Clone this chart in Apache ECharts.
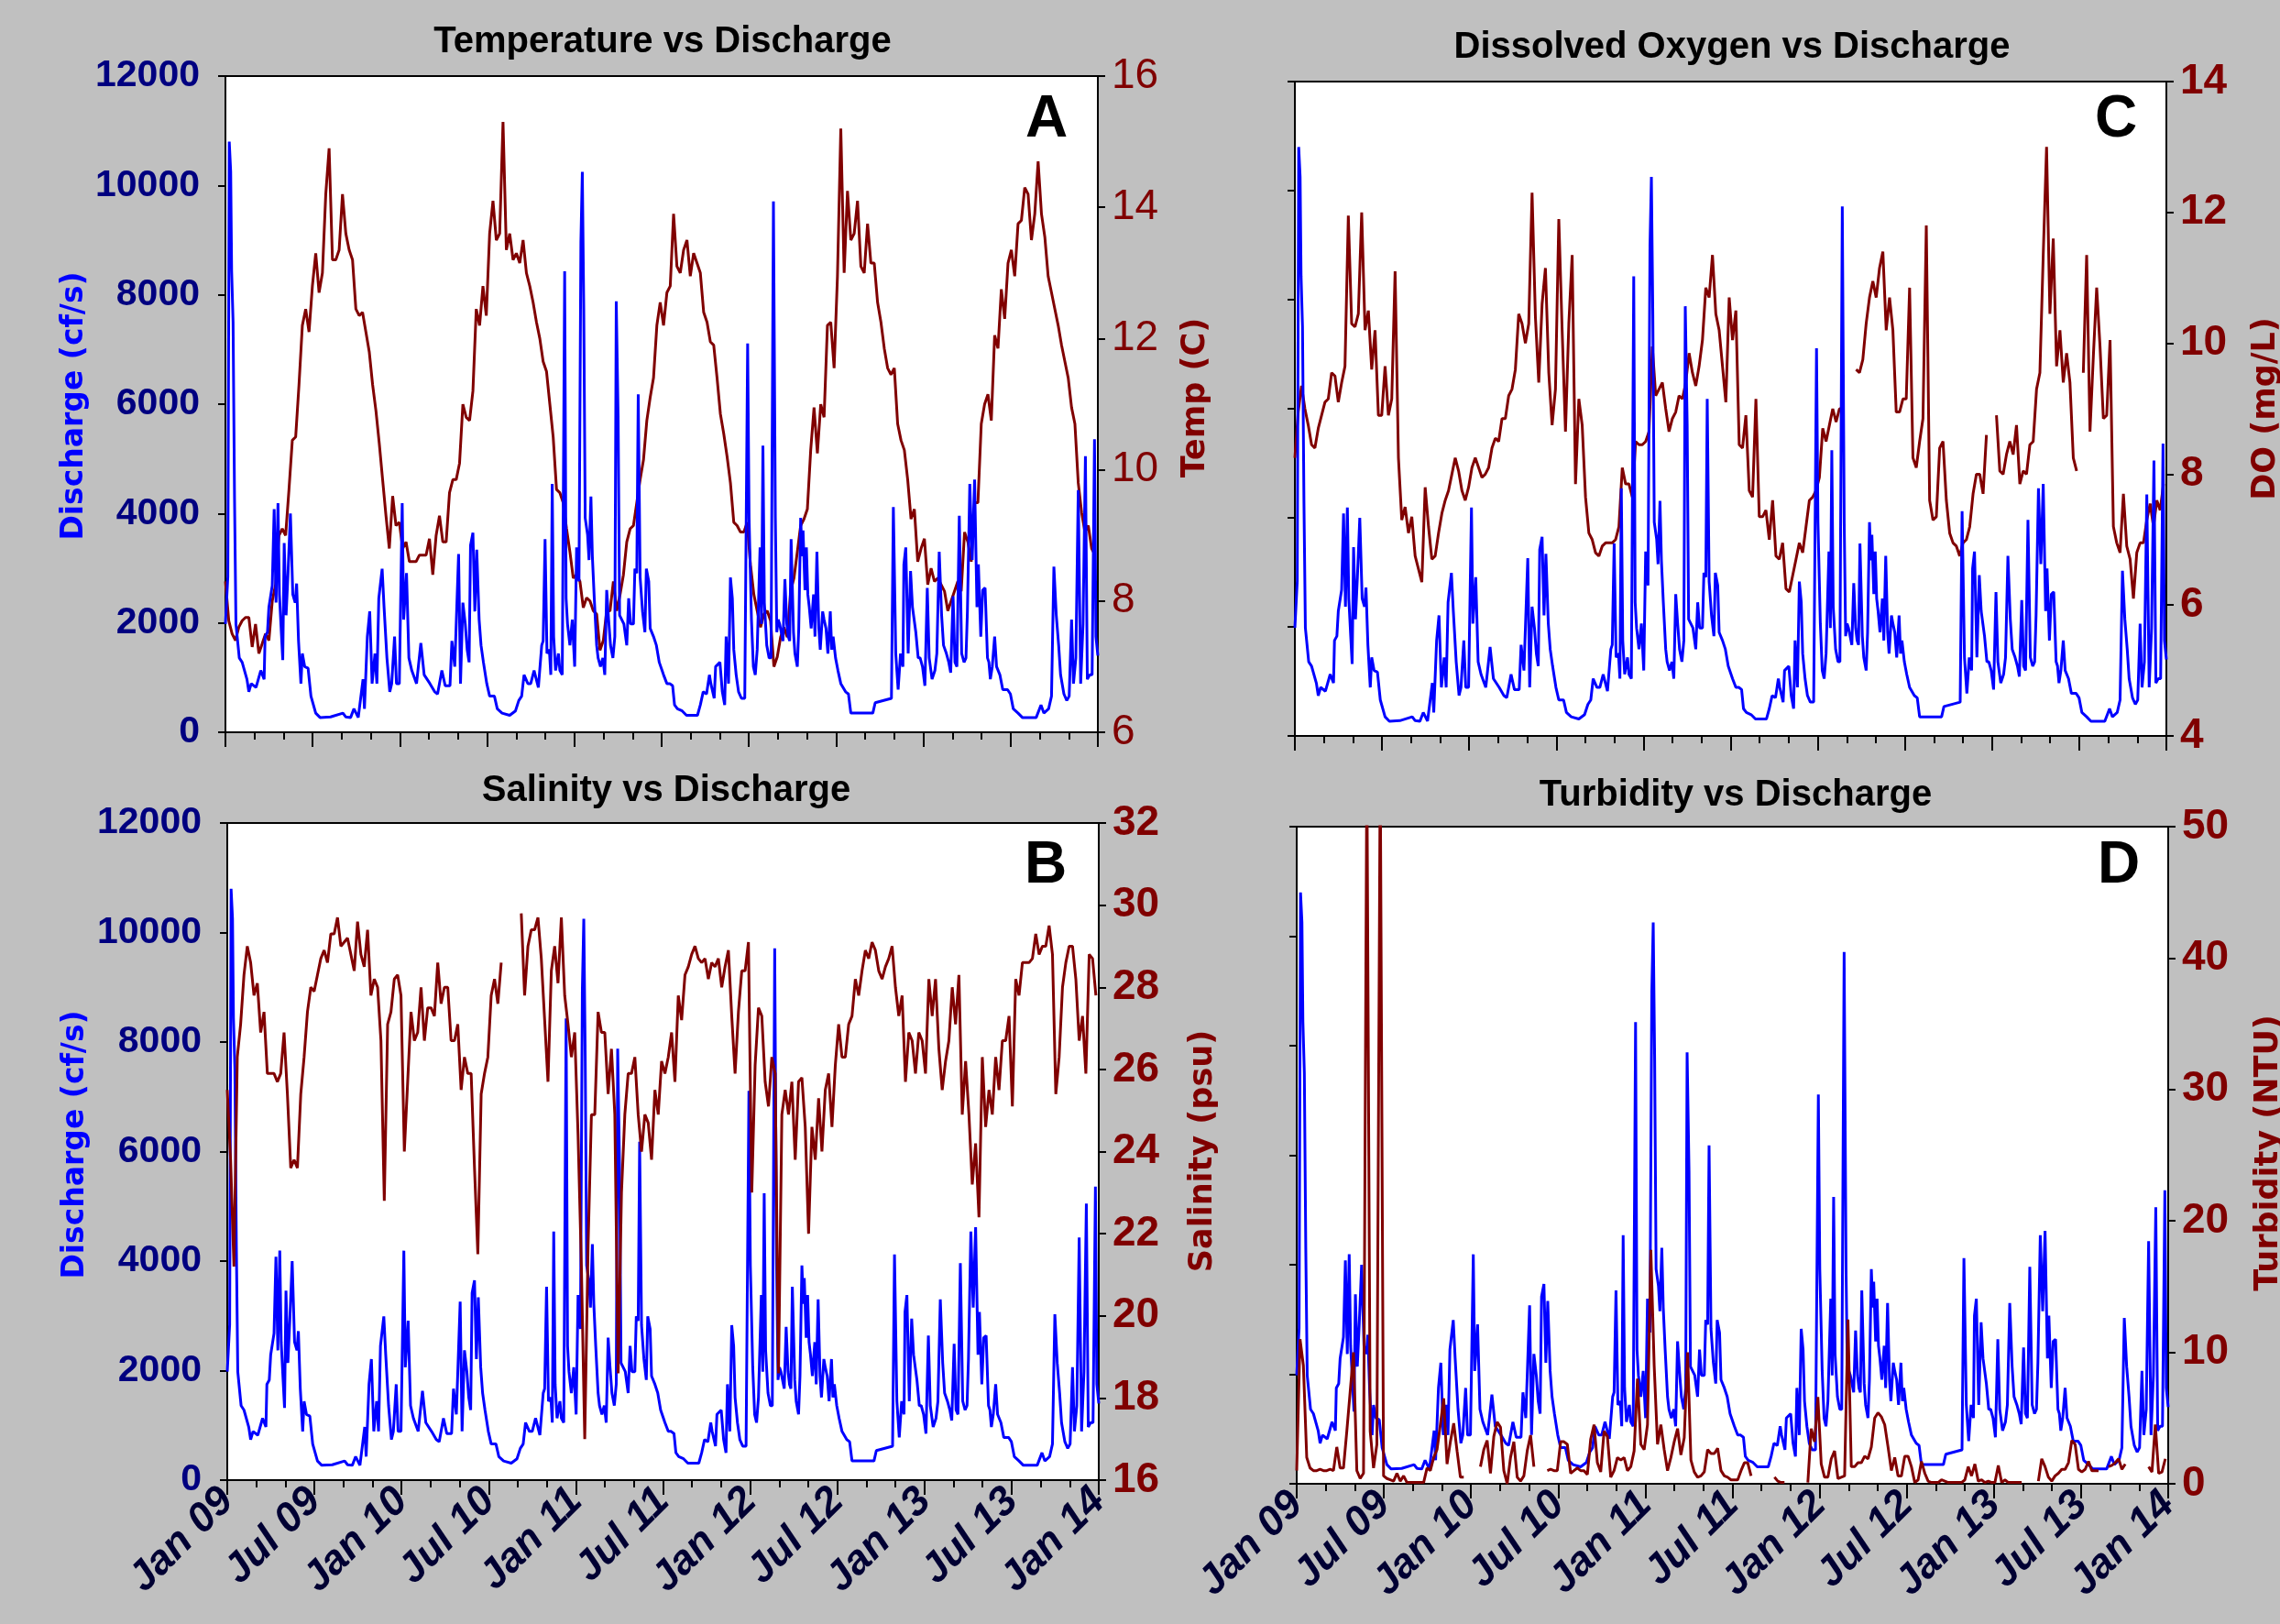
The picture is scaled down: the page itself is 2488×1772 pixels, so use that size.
<!DOCTYPE html>
<html>
<head>
<meta charset="utf-8">
<script src="https://cdn.jsdelivr.net/npm/echarts@6/dist/echarts.min.js"></script>
<style>
html,body{margin:0;padding:0;background:#c0c0c0;}
#chart{width:2488px;height:1772px;}
</style>
</head>
<body>
<div id="chart"></div>
<script>
// discharge (cf/s): day offset from 2009-01-01 and value, shared by all four panels
const qDay = [0,5,8,11,13,16,19,22,29,35,45,49,54,64,74,81,83,88,91,98,
  102,106,110,113,117,120,123,127,131,136,141,146,149,153,158,161,166,173,179,189,
  198,220,246,252,262,269,278,288,291,297,302,307,313,317,321,328,332,338,344,348,
  354,358,364,370,373,379,384,390,400,409,416,428,438,444,453,460,470,474,480,488,
  492,497,502,506,510,513,518,522,526,531,535,540,547,553,563,569,579,595,607,614,
  620,625,633,639,646,655,662,665,669,673,678,681,684,687,691,697,700,705,710,713,
  716,721,726,731,735,740,744,747,750,753,758,761,765,768,772,777,780,785,790,794,
  798,802,806,811,815,818,822,825,834,840,844,848,854,857,861,864,868,873,878,881,
  886,889,896,902,908,
  917,924,930,936,940,946,956,965,975,988,994,1000,1007,1013,1016,1023,1026,1029,1035,1040,
  1045,1048,1053,1057,1061,1064,1069,1074,1080,1087,1093,1096,1101,1105,1109,1113,1119,1122,1125,1128,
  1133,1138,1142,1147,1151,1154,1157,1160,1163,1167,1171,1175,1178,1181,1184,1189,1192,1197,1200,1204,
  1207,1209,1213,1216,1219,1222,1226,1231,1234,1238,1242,1245,1250,1253,1257,1261,1266,1269,1272,1277,
  1282,1288,1298,1304,1309,1317,1336,1355,1360,1394,1398,1403,1408,1413,1418,1420,1424,1429,1434,1438,
  1445,1450,1454,1459,1464,1469,1473,1479,1485,1489,1494,1499,1503,1509,1514,1518,1523,1527,1531,1536,
  1541,1546,1550,1553,1558,1563,1568,1573,1576,1581,1585,1590,1595,1598,1601,1605,1610,1614,1621,1627,
  1637,1643,1649,1659,1668,1681,1697,1707,1713,1723,1729,1734,1739,1744,1748,1755,1761,1766,1771,1775,
  1780,1785,1790,1795,1800,1804,1809,1814,1819,1822,1826];
const qVal = [1980,2840,10800,10250,8430,7500,4300,1980,1360,1280,970,740,890,820,1130,970,1750,1830,2290,2680,
  4080,2370,4190,2520,1830,1320,3460,2140,2910,4000,2520,2370,2720,1670,890,1440,1200,1170,660,350,
  270,280,350,280,270,430,270,970,430,1750,2210,890,1440,890,2450,2990,2290,1360,740,890,
  1750,890,890,4190,2060,2910,1360,1130,890,1630,1050,890,740,700,1130,850,850,1670,1200,3260,
  890,2370,1980,1510,1280,3420,3650,2210,3340,2060,1590,1280,890,660,660,430,350,310,390,580,
  660,1050,890,890,1130,820,1590,1670,3530,1440,1510,1050,4540,1750,1130,1440,1130,1050,8430,2450,
  1980,1590,2060,1200,3380,2760,8970,10250,7730,3920,3610,3150,4310,3220,2450,1590,1360,1200,1360,1050,
  2600,2060,1590,1360,1750,7880,5710,2140,1980,1590,2450,1980,1980,2990,2910,6180,2830,2210,1830,2990,
  2760,1900,1750,1590,1280,
  1050,890,890,850,500,430,390,310,310,310,500,740,700,1050,890,620,1200,1170,1280,740,
  500,1750,890,2830,2450,1510,1050,740,620,620,7110,3920,2060,1200,1050,1510,3380,1980,5240,2370,
  1590,1360,1360,9710,3920,1830,2060,1980,1980,1670,2800,1980,1750,1670,3530,1830,1440,1200,1900,3920,
  3220,3690,2600,3380,2520,2290,1900,2520,1750,3300,1900,1510,2210,2060,1900,1440,2210,1510,1750,1360,
  1130,890,740,700,350,350,350,350,540,620,4120,1440,780,1440,1200,3070,3380,1440,2950,2290,
  1830,1360,1360,1200,850,2640,1360,970,1130,1440,3300,2140,1590,1440,1280,1090,2490,1280,1200,3960,
  1440,1280,1360,2210,4540,3150,4620,2290,3070,1750,2600,2640,1360,1280,970,1200,1750,1200,1050,780,
  780,700,430,350,270,270,270,500,350,430,660,3030,2140,1590,1050,700,580,660,2060,890,
  1360,4430,890,1980,5050,970,1050,1050,5360,1750,1400];

// weekly readings (week k = day 7k), Jan 2009 - Dec 2013
const tempC = [8.3,7.7,7.5,7.4,7.6,7.7,7.75,7.75,7.3,7.65,
  7.2,7.35,7.5,7.4,8.0,8.25,9.0,9.1,9.0,9.7,
  10.45,10.5,11.3,12.2,12.45,12.1,12.8,13.3,12.7,13.0,
  14.2,14.9,13.2,13.2,13.35,14.2,13.6,13.35,13.2,12.45,
  12.35,12.4,12.1,11.8,11.3,10.9,10.4,9.85,9.3,8.8,
  9.6,9.15,9.2,8.8,8.9,8.6,8.6,8.6,8.7,8.7,
  8.7,8.95,8.4,9.0,9.3,8.9,8.9,9.65,9.85,9.85,
  10.1,11.0,10.8,10.75,11.2,12.45,12.2,12.8,12.35,13.6,
  14.1,13.5,13.6,15.3,13.35,13.6,13.2,13.3,13.15,13.5,
  13.0,12.8,12.55,12.25,12.0,11.65,11.5,11.0,10.5,9.7,
  9.65,9.5,9.1,8.75,8.35,8.4,8.3,7.9,8.05,8.0,
  7.85,7.8,7.25,7.4,7.85,7.85,8.3,7.85,8.1,8.4,
  8.9,9.1,9.15,9.5,9.85,10.15,10.75,11.1,11.4,12.2,
  12.55,12.2,12.7,12.8,13.9,13.1,13.0,13.35,13.5,12.95,
  13.3,13.15,13.0,12.4,12.25,11.95,11.9,11.4,10.85,10.55,
  10.2,9.8,9.2,9.15,9.05,9.05,9.2,8.55,8.1,7.85,
  7.6,7.8,7.85,7.7,7.0,7.15,7.45,7.6,7.45,8.15,
  8.35,8.75,9.15,9.25,9.4,10.3,10.95,10.25,11.0,10.8,
  12.2,12.25,11.55,12.95,15.2,13.0,14.25,13.5,13.6,14.1,
  13.1,13.0,13.75,13.15,13.15,12.55,12.25,11.85,11.55,11.45,
  11.55,10.7,10.45,10.3,9.85,9.25,9.4,8.6,8.8,8.95,
  8.25,8.5,8.3,8.35,8.25,8.15,7.85,8.0,8.15,8.3,
  8.15,9.05,8.9,8.6,9.5,9.5,10.7,11.0,11.15,10.75,
  12.05,11.85,12.75,12.3,13.15,13.35,12.95,13.75,13.8,14.3,
  14.2,13.5,13.9,14.7,13.9,13.55,12.95,12.7,12.45,12.2,
  11.9,11.65,11.4,10.95,10.7,9.8,9.35,9.05,9.15,8.8,8.7];

const salPsu = [25.5,23.8,21.2,26.3,27.1,28.3,29.0,28.6,27.8,28.1,
  26.9,27.4,25.9,25.9,25.9,25.7,25.9,26.9,25.4,23.6,
  23.8,23.6,25.4,26.3,27.4,28.0,27.9,28.3,28.7,28.9,
  28.6,29.3,29.3,29.7,29.0,29.1,29.2,28.8,28.4,29.6,
  28.8,28.5,29.4,27.8,28.2,28.0,26.7,22.8,27.1,27.4,
  28.2,28.3,27.8,24.0,25.7,27.4,26.7,26.9,28.0,26.7,
  27.5,27.5,27.3,28.6,27.6,28.0,28.0,26.7,26.7,27.1,
  25.5,26.3,25.9,25.9,23.6,21.5,25.4,25.9,26.3,27.8,
  28.2,27.6,28.6,null,null,null,null,null,29.8,27.8,
  29.0,29.4,29.4,29.7,28.7,27.2,25.7,28.4,29.0,28.1,
  29.7,27.8,27.1,26.3,26.9,24.4,21.2,17.0,21.7,24.9,
  24.9,27.4,26.9,26.9,25.4,26.5,24.9,18.6,23.0,24.9,
  25.9,25.9,26.3,24.9,24.0,24.9,24.7,23.8,25.5,24.9,
  26.2,25.9,26.3,26.9,25.7,27.8,27.2,28.3,28.5,28.8,
  29.0,28.7,28.6,28.7,28.2,28.6,28.5,28.7,28.0,28.5,
  28.9,27.3,25.9,27.4,28.4,28.4,29.1,23.0,26.1,27.5,
  27.3,25.7,25.1,26.3,25.9,18.6,24.9,25.5,24.9,25.7,
  23.8,25.7,25.8,24.6,22.0,24.6,23.8,25.3,24.0,25.5,
  25.9,24.6,26.1,27.1,26.3,26.3,27.1,27.3,28.2,27.8,
  28.4,28.9,28.7,29.1,28.9,28.4,28.2,28.5,28.7,29.0,
  28.0,27.3,27.8,25.7,26.9,26.7,25.9,26.9,26.7,25.9,
  28.2,27.3,28.2,26.5,25.5,26.2,26.7,28.0,27.1,28.3,
  24.9,26.2,24.9,23.2,24.2,22.4,26.3,24.6,25.5,24.9,
  26.3,25.5,26.7,26.7,27.3,25.1,28.2,27.8,28.6,28.6,
  28.6,28.7,29.3,28.8,29.0,29.0,29.5,28.8,25.4,26.3,
  28.0,28.6,29.0,29.0,28.2,26.7,27.3,25.9,28.8,28.7,27.8];

const doMgL = [8.25,8.95,9.35,9.0,8.75,8.45,8.4,8.7,8.9,9.1,
  9.15,9.55,9.5,9.1,9.4,9.65,11.95,10.3,10.25,10.45,
  12.0,10.2,10.5,9.6,10.2,8.9,8.9,9.65,8.9,9.15,
  11.1,8.25,7.3,7.5,7.1,7.35,6.75,6.55,6.35,7.8,
  7.2,6.7,6.75,7.1,7.4,7.6,7.75,8.0,8.25,8.05,
  7.75,7.6,7.8,8.1,8.25,8.1,7.95,8.0,8.1,8.4,
  8.55,8.5,8.85,8.85,9.2,9.3,9.6,10.45,10.3,10.0,
  10.3,12.3,10.4,9.4,10.6,11.15,9.55,8.75,9.3,11.9,
  10.2,8.65,10.3,11.35,7.85,9.15,8.75,7.65,7.1,7.0,
  6.8,6.75,6.9,6.95,6.95,6.95,7.0,7.2,8.1,7.85,
  7.85,7.65,8.5,8.45,8.45,8.5,8.65,9.95,9.2,9.3,
  9.4,9.0,8.65,8.85,8.95,9.2,9.15,9.4,9.85,9.55,
  9.35,9.65,10.05,10.85,10.7,11.35,10.45,10.2,9.65,9.1,
  10.7,10.05,10.5,8.45,8.4,8.9,7.75,7.65,9.15,7.35,
  7.35,7.45,7.0,7.6,6.75,6.7,6.95,6.25,6.2,6.45,
  6.7,6.95,6.8,7.2,7.6,7.65,7.75,7.95,8.7,8.5,
  8.75,9.0,8.8,9.0,9.0,null,null,null,9.6,9.55,
  9.75,10.3,10.7,10.95,10.7,11.15,11.4,10.2,10.7,10.2,
  8.95,8.95,9.15,9.15,10.85,8.25,8.1,8.5,8.85,11.8,
  7.6,7.3,7.35,8.4,8.5,7.6,7.1,6.95,6.9,6.75,
  6.95,7.0,7.2,7.7,8.0,8.0,7.7,8.6,null,null,
  8.9,8.05,8.0,8.3,8.5,8.3,8.75,7.85,8.05,8.0,
  8.45,8.5,9.3,9.55,11.35,13.0,10.45,11.6,9.65,10.2,
  9.4,9.85,9.4,8.25,8.05,null,9.55,11.35,8.65,9.8,
  10.85,9.95,8.85,8.9,10.05,7.2,6.95,6.8,7.7,6.9,
  6.7,6.1,6.8,6.95,6.95,7.3,7.55,7.2,7.6,7.45,7.85];

const turbNtu = [1.0,11.0,9.0,2.0,1.2,1.0,1.0,1.1,1.0,1.0,
  1.1,1.0,2.8,1.2,1.2,4.0,7.0,10.0,1.0,0.4,
  0.8,55,4.0,1.2,3.0,55,0.6,0.4,0.3,0.2,
  0.8,0.2,0.6,0.1,0.1,0.1,0.1,0.1,0.1,1.2,
  1.0,2.0,2.6,4.5,6.5,1.5,3.2,4.6,2.5,0.5,
  0.5,null,null,null,null,1.3,2.6,3.3,0.8,3.6,
  4.7,4.3,1.0,0,2.0,3.2,0.5,0.2,0.6,2.5,
  3.7,1.3,null,null,null,1.0,1.1,1.0,1.0,3.2,
  3.2,3.0,0.8,1.0,1.2,1.0,1.0,0.7,3.4,4.5,
  1.6,0.9,4.0,3.6,0.5,1.0,2.0,1.8,2.0,1.0,
  1.3,2.5,8.0,3.0,2.6,4.5,17.8,9.0,3.0,4.5,
  2.6,1.0,2.0,3.2,4.2,2.2,3.5,10.0,1.8,0.9,
  0.5,0.6,0.9,2.6,2.3,2.3,2.7,1.0,0.6,0.5,
  0.3,0.3,0.3,1.0,1.6,1.6,0.6,null,null,null,
  null,null,null,0.5,0.2,0.1,0.1,null,null,null,
  null,null,null,0.1,4.2,3.2,6.6,1.5,0.5,0.5,
  1.9,2.5,0.4,0.5,0.6,12.5,1.3,1.3,1.6,1.6,
  2.1,1.9,2.8,5.0,5.4,5.1,4.5,2.8,1.0,2.0,
  0.6,0.6,2.1,2.1,1.3,0.1,0.3,1.7,0.8,0.2,
  0.1,0.1,0.1,0.3,0.2,0.1,0.1,0.1,0.1,0.1,
  0.3,1.3,0.6,1.5,0.2,0.3,0.1,0.2,0.1,0.1,
  1.4,0.1,0.3,0.1,0.1,0.1,0.1,0.1,null,null,
  null,null,0.2,1.9,1.3,0.5,0.2,0.6,0.8,1.1,
  1.1,1.6,3.3,3.0,1.1,0.9,1.1,1.7,1.0,1.0,
  1.0,null,null,1.3,1.4,1.6,1.9,1.1,1.5,null,
  null,null,null,null,null,1.3,0.9,4.5,0.8,0.9,1.9];

const monthNames = ['Jan', 'Jul'];
const halfYear = 182.6;
const lastDay = 1826;

const SANS = '"Liberation Sans",Arial,sans-serif';
const BLUE = '#0000ff', RED = '#800000', NAVY = '#000080';

const chart = echarts.init(document.getElementById('chart'));

function weekly(arr) {
  return arr.map((v, k) => [k * 7, v]);
}
const discharge = qDay.map((d, i) => [d, qVal[i]]);

const grids = [
  {left: 246, top: 83, width: 952, height: 716},   // A
  {left: 248, top: 898, width: 951, height: 717},  // B
  {left: 1413, top: 89, width: 951, height: 714},  // C
  {left: 1415, top: 902, width: 951, height: 717}  // D
].map(g => Object.assign(g, {show: true, backgroundColor: '#fff', borderColor: '#000', borderWidth: 2}));

function xAx(i, labels) {
  return {
    type: 'value', gridIndex: i, min: 0, max: lastDay, interval: halfYear,
    axisLine: {onZero: false, lineStyle: {color: '#000', width: 2}},
    axisTick: {length: 16, lineStyle: {color: '#000', width: 2}},
    minorTick: {show: true, splitNumber: 3, length: 8, lineStyle: {color: '#000', width: 2}},
    splitLine: {show: false},
    axisLabel: {
      show: labels, rotate: 45, margin: 16,
      color: '#000033', fontFamily: SANS,
      fontSize: 45, fontWeight: 'bold', fontStyle: 'italic',
      formatter: v => {
        const i = Math.round(v / halfYear);
        return monthNames[i % 2] + ' ' + String(9 + Math.floor(i / 2)).padStart(2, '0');
      }
    }
  };
}

function yAx(i, side, min, max, step, labelOpt) {
  return {
    type: 'value', gridIndex: i, position: side, min, max, interval: step,
    axisLine: {show: true, onZero: false, lineStyle: {color: '#000', width: 2}},
    axisTick: {show: true, length: 8, lineStyle: {color: '#000', width: 2}},
    splitLine: {show: false},
    axisLabel: labelOpt
  };
}
const plain = v => String(v);
const leftLab = {show: true, color: NAVY, fontFamily: SANS, fontSize: 41, fontWeight: 'bold', margin: 28, formatter: plain};
const noLab = {show: false};
const rightLab = (w) => ({show: true, color: RED, fontFamily: SANS, fontSize: 46, fontWeight: w, margin: 15, formatter: plain});

function line(data, color, w, xi, yi) {
  return {type: 'line', data, xAxisIndex: xi, yAxisIndex: yi, showSymbol: false, symbol: 'none',
    clip: true, connectNulls: false, lineStyle: {color, width: w}, animation: false};
}

function txt(text, x, y, font, fill, rot) {
  return {type: 'text', x, y, rotation: rot || 0, silent: true,
    style: {text, font, fill, align: 'center', verticalAlign: 'middle'}};
}
const titleFont = 'bold 40px ' + SANS;
const letterFont = 'bold 64px ' + SANS;
const qFont = 'bold 33px "DejaVu Sans",Verdana,sans-serif';
const nameFont = 'bold 35px "DejaVu Sans",Verdana,sans-serif';
const up = Math.PI / 2;

chart.setOption({
  backgroundColor: '#c0c0c0',
  animation: false,
  grid: grids,
  xAxis: [xAx(0, false), xAx(1, true), xAx(2, false), xAx(3, true)],
  yAxis: [
    yAx(0, 'left', 0, 12000, 2000, leftLab), yAx(0, 'right', 6, 16, 2, rightLab('normal')),
    yAx(1, 'left', 0, 12000, 2000, leftLab), yAx(1, 'right', 16, 32, 2, rightLab('bold')),
    yAx(2, 'left', 0, 12000, 2000, noLab), yAx(2, 'right', 4, 14, 2, rightLab('bold')),
    yAx(3, 'left', 0, 12000, 2000, noLab), yAx(3, 'right', 0, 50, 10, rightLab('bold'))
  ],
  series: [
    line(weekly(tempC), RED, 3, 0, 1),
    line(discharge, BLUE, 3, 0, 0),
    line(discharge, BLUE, 3, 1, 2),
    line(weekly(salPsu), RED, 3, 1, 3),
    line(weekly(doMgL), RED, 3, 2, 5),
    line(discharge, BLUE, 3, 2, 4),
    line(discharge, BLUE, 3, 3, 6),
    line(weekly(turbNtu), RED, 3, 3, 7)
  ],
  graphic: [
    txt('Temperature vs Discharge', 723, 46, titleFont, '#000'),
    txt('Dissolved Oxygen vs Discharge', 1890, 52, titleFont, '#000'),
    txt('Salinity vs Discharge', 727, 863, titleFont, '#000'),
    txt('Turbidity vs Discharge', 1894, 868, titleFont, '#000'),
    txt('A', 1142, 131, letterFont, '#000'),
    txt('B', 1141, 945, letterFont, '#000'),
    txt('C', 2309, 131, letterFont, '#000'),
    txt('D', 2312, 945, letterFont, '#000'),
    txt('Discharge (cf/s)', 81, 443, qFont, BLUE, up),
    txt('Discharge (cf/s)', 82, 1249, qFont, BLUE, up),
    txt('Temp (C)', 1305, 434, nameFont, RED, up),
    txt('Salinity (psu)', 1313, 1256, nameFont, RED, up),
    txt('DO (mg/L)', 2473, 446, nameFont, RED, up),
    txt('Turbidity (NTU)', 2476, 1258, nameFont, RED, up)
  ]
});
</script>
</body>
</html>
